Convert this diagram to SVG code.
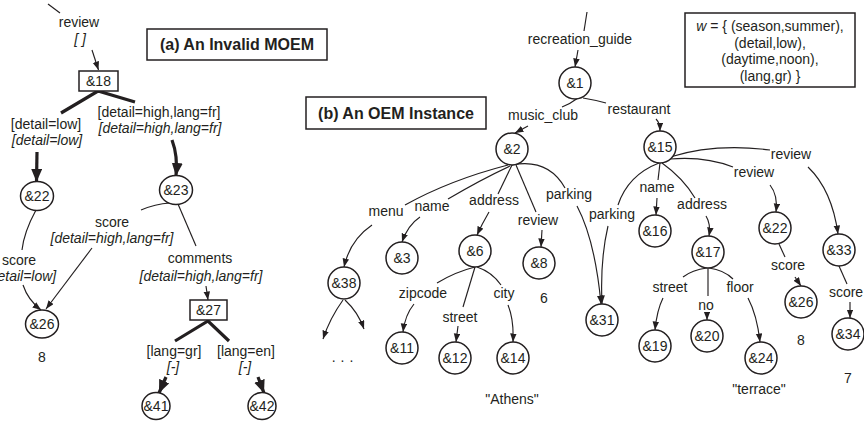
<svg xmlns="http://www.w3.org/2000/svg" width="864" height="428" viewBox="0 0 864 428">
<defs>
<style>
text{font-family:"Liberation Sans",Arial,sans-serif;font-size:14px;fill:#231f20;text-anchor:middle}
.it{font-style:italic}
.ttl{font-weight:bold;font-size:16px}
.n{fill:#fff;stroke:#231f20;stroke-width:1.5}
.e{fill:none;stroke:#231f20;stroke-width:1.15}
.t{fill:none;stroke:#231f20;stroke-width:3.2}
.a{marker-end:url(#ah)}
.ta{marker-end:url(#th)}
</style>
<marker id="ah" markerUnits="userSpaceOnUse" markerWidth="9" markerHeight="7" refX="8.5" refY="3.25" orient="auto"><path d="M0,0 L8.5,3.25 L0,6.5 z" fill="#231f20"/></marker>
<marker id="th" markerUnits="userSpaceOnUse" markerWidth="14" markerHeight="12" refX="13" refY="5.5" orient="auto"><path d="M0,0 L13,5.5 L0,11 z" fill="#231f20"/></marker>
</defs>
<rect width="864" height="428" fill="#fff"/>

<g id="connectors">
<!-- (a) -->
<path class="e" d="M48,4 L60,13"/>
<path class="e a" d="M92,50 L98.5,70"/>
<path class="t" d="M61,113 L98,91 L135,102"/>
<path class="t ta" d="M37,152 L36.5,182"/>
<path class="t ta" d="M172,140 Q178,156 176,176"/>
<path class="e" d="M36,210 Q24,232 22,250"/>
<path class="e a" d="M23,285 Q28,300 41,310"/>
<path class="e" d="M170,203 Q155,204 141,210"/>
<path class="e a" d="M92,248 L46,309"/>
<path class="e" d="M178,204 L196,246"/>
<path class="e a" d="M206,286 L208,300"/>
<path class="t" d="M175,341 L208,321 L229,341"/>
<path class="t ta" d="M166,377 L159,393"/>
<path class="t ta" d="M258,377 L264,393"/>
<!-- (b) -->
<path class="e" d="M587,12 L584,31"/>
<path class="e a" d="M578,50 L575,67"/>
<path class="e" d="M578,98 Q570,104 562,107"/>
<path class="e a" d="M528,126 L515,133"/>
<path class="e" d="M583,98 Q595,100 606,103"/>
<path class="e a" d="M656,119 Q660,123 660,131"/>
<path class="e" d="M508,165 Q450,180 405,205"/>
<path class="e a" d="M372,225 Q350,240 344,267"/>
<path class="e" d="M510,166 Q480,180 448,199"/>
<path class="e a" d="M420,217 Q408,225 402,242"/>
<path class="e" d="M512,165 L498,194"/>
<path class="e a" d="M489,212 Q482,224 477,235"/>
<path class="e" d="M516,165 L536,212"/>
<path class="e a" d="M542,230 L541,247"/>
<path class="e" d="M512,165 Q548,158 565,188"/>
<path class="e a" d="M577,206 Q595,240 601,304"/>
<path class="e" d="M659,163 Q628,175 618,205"/>
<path class="e a" d="M608,226 Q600,260 602,304"/>
<path class="e" d="M660,163 L658,180"/>
<path class="e a" d="M657,198 L656,215"/>
<path class="e" d="M662,163 Q683,178 695,198"/>
<path class="e a" d="M706,216 Q711,224 709,236"/>
<path class="e" d="M670,159 Q705,156 733,167"/>
<path class="e a" d="M770,185 Q778,195 776,212"/>
<path class="e" d="M670,157 Q715,143 770,150"/>
<path class="e a" d="M808,167 Q832,190 838,234"/>
<path class="e" d="M779,244 L785,257"/>
<path class="e a" d="M795,277 L801,286"/>
<path class="e" d="M839,266 L847,284"/>
<path class="e a" d="M850,302 L850,318"/>
<path class="e" d="M475,267 Q455,272 437,283"/>
<path class="e a" d="M414,304 Q405,315 403,332"/>
<path class="e" d="M475,267 L463,307"/>
<path class="e a" d="M458,326 L456,342"/>
<path class="e" d="M477,267 Q492,272 501,285"/>
<path class="e a" d="M508,305 Q514,320 513,342"/>
<path class="e a" d="M343,300 Q330,318 323,339"/>
<path class="e a" d="M345,300 Q358,312 364,329"/>
<path class="e" d="M707,268 Q692,270 683,277"/>
<path class="e a" d="M663,298 Q657,310 655,330"/>
<path class="e" d="M708,268 L708,296"/>
<path class="e a" d="M707,313 L707,320"/>
<path class="e" d="M709,268 Q724,270 733,279"/>
<path class="e a" d="M748,298 Q757,315 760,342"/>
</g>

<g id="labels">
<text x="79" y="27">review</text>
<text x="80" y="44" class="it">[ ]</text>
<text x="46" y="129">[detail=low]</text>
<text x="47" y="145" class="it">[detail=low]</text>
<text x="159" y="117">[detail=high,lang=fr]</text>
<text x="160" y="133" class="it">[detail=high,lang=fr]</text>
<text x="19" y="265">score</text>
<text x="21" y="281" class="it">[detail=low]</text>
<text x="112" y="227">score</text>
<text x="112" y="243" class="it">[detail=high,lang=fr]</text>
<text x="200" y="263">comments</text>
<text x="201" y="281" class="it">[detail=high,lang=fr]</text>
<text x="42" y="362">8</text>
<text x="174" y="356">[lang=gr]</text>
<text x="173" y="372" class="it">[-]</text>
<text x="246" y="356">[lang=en]</text>
<text x="245" y="372" class="it">[-]</text>

<text x="580" y="44">recreation_guide</text>
<text x="543" y="120">music_club</text>
<text x="639" y="114">restaurant</text>
<text x="386" y="216">menu</text>
<text x="432" y="211">name</text>
<text x="494" y="205">address</text>
<text x="538" y="225">review</text>
<text x="569" y="199">parking</text>
<text x="544" y="303">6</text>
<text x="423" y="298">zipcode</text>
<text x="460" y="322">street</text>
<text x="504" y="298">city</text>
<text x="512" y="404">"Athens"</text>
<text x="345" y="362" style="letter-spacing:5px">...</text>
<text x="612" y="219">parking</text>
<text x="657" y="192">name</text>
<text x="702" y="209">address</text>
<text x="754" y="177">review</text>
<text x="791" y="159">review</text>
<text x="788" y="270">score</text>
<text x="801" y="345">8</text>
<text x="846" y="297">score</text>
<text x="848" y="383">7</text>
<text x="670" y="292">street</text>
<text x="706" y="310">no</text>
<text x="740" y="292">floor</text>
<text x="759" y="394">"terrace"</text>
</g>

<g id="title-a"><rect x="147" y="29" width="180" height="31" fill="#fff" stroke="#231f20" stroke-width="1.5"/><text x="237" y="50" class="ttl">(a) An Invalid MOEM</text></g>
<g id="title-b"><rect x="306" y="97" width="180" height="32" fill="#fff" stroke="#231f20" stroke-width="1.5"/><text x="396" y="119" class="ttl">(b) An OEM Instance</text></g>
<g id="world"><rect x="685" y="13" width="170" height="74" fill="#fff" stroke="#231f20" stroke-width="1.5"/>
<text x="770" y="31"><tspan class="it">w</tspan> = { (season,summer),</text>
<text x="770" y="47.5">(detail,low),</text>
<text x="770" y="64">(daytime,noon),</text>
<text x="770" y="80.5">(lang,gr) }</text>
</g>

<g id="a18"><rect class="n" x="79" y="71" width="39" height="20"/><text x="98.5" y="86">&amp;18</text></g>
<g id="a22"><ellipse class="n" cx="37" cy="196" rx="16.5" ry="14.5"/><text x="37" y="201">&amp;22</text></g>
<g id="a23"><ellipse class="n" cx="176" cy="190" rx="16.5" ry="14.5"/><text x="176" y="195">&amp;23</text></g>
<g id="a26"><ellipse class="n" cx="42" cy="324" rx="16.5" ry="14"/><text x="42" y="329">&amp;26</text></g>
<g id="a27"><rect class="n" x="190" y="300" width="37" height="20"/><text x="208.5" y="315">&amp;27</text></g>
<g id="a41"><ellipse class="n" cx="156" cy="406" rx="14" ry="13.5"/><text x="156" y="411">&amp;41</text></g>
<g id="a42"><ellipse class="n" cx="262" cy="406" rx="14" ry="13.5"/><text x="262" y="411">&amp;42</text></g>

<g id="b1"><circle class="n" cx="575" cy="83" r="16"/><text x="575" y="88">&amp;1</text></g>
<g id="b2"><circle class="n" cx="512" cy="149" r="16"/><text x="512" y="154">&amp;2</text></g>
<g id="b15"><circle class="n" cx="660" cy="147" r="16"/><text x="660" y="152">&amp;15</text></g>
<g id="b38"><circle class="n" cx="344" cy="283" r="16"/><text x="344" y="288">&amp;38</text></g>
<g id="b3"><circle class="n" cx="402" cy="258" r="16"/><text x="402" y="263">&amp;3</text></g>
<g id="b6"><circle class="n" cx="475" cy="251" r="16"/><text x="475" y="256">&amp;6</text></g>
<g id="b8"><circle class="n" cx="539" cy="263" r="16"/><text x="539" y="268">&amp;8</text></g>
<g id="b31"><circle class="n" cx="602" cy="320" r="16"/><text x="602" y="325">&amp;31</text></g>
<g id="b16"><circle class="n" cx="655" cy="231" r="16"/><text x="655" y="236">&amp;16</text></g>
<g id="b17"><circle class="n" cx="708" cy="252" r="16"/><text x="708" y="257">&amp;17</text></g>
<g id="b22"><circle class="n" cx="775" cy="228" r="16"/><text x="775" y="233">&amp;22</text></g>
<g id="b33"><circle class="n" cx="839" cy="250" r="16"/><text x="839" y="255">&amp;33</text></g>
<g id="b26"><circle class="n" cx="801" cy="302" r="16"/><text x="801" y="307">&amp;26</text></g>
<g id="b34"><circle class="n" cx="848" cy="334" r="16"/><text x="848" y="339">&amp;34</text></g>
<g id="b11"><circle class="n" cx="402" cy="348" r="16"/><text x="402" y="353">&amp;11</text></g>
<g id="b12"><circle class="n" cx="455" cy="358" r="16"/><text x="455" y="363">&amp;12</text></g>
<g id="b14"><circle class="n" cx="513" cy="358" r="16"/><text x="513" y="363">&amp;14</text></g>
<g id="b19"><circle class="n" cx="655" cy="346" r="16"/><text x="655" y="351">&amp;19</text></g>
<g id="b20"><circle class="n" cx="707" cy="336" r="16"/><text x="707" y="341">&amp;20</text></g>
<g id="b24"><circle class="n" cx="761" cy="358" r="16"/><text x="761" y="363">&amp;24</text></g>
</svg>
